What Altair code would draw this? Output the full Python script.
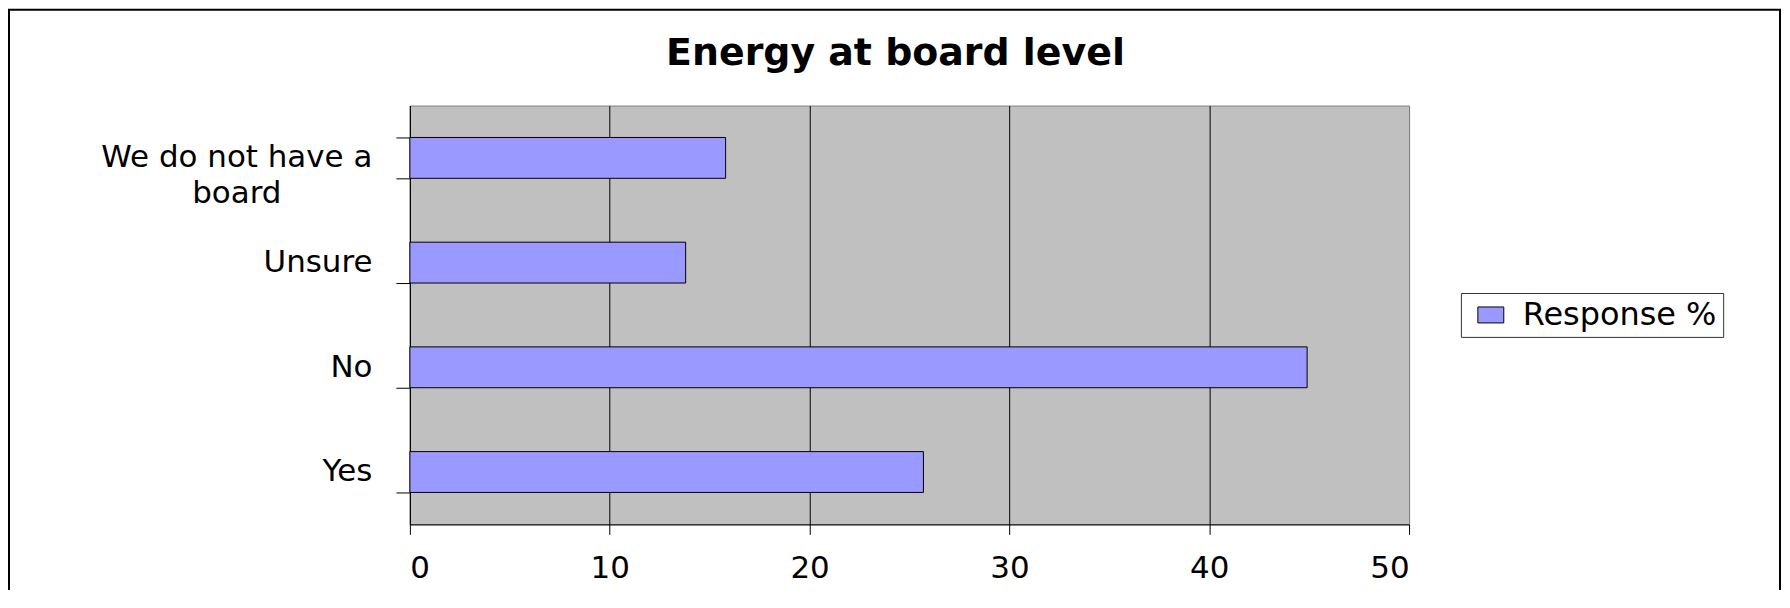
import altair as alt
import pandas as pd

categories = ["We do not have a board", "Unsure", "No", "Yes"]
values = [15.8, 13.8, 44.9, 25.7]
series_name = "Response %"
x_ticks = [0, 10, 20, 30, 40, 50]
title_text = "Energy at board level"

df = pd.DataFrame({"category": categories, "value": values, "series": [series_name] * len(categories)})

FONT = "DejaVu Sans"
LABEL_SIZE = 31
long_label = categories[0]
is_long = f"datum.value == '{long_label}'"
label_expr = f"{is_long} ? ['We do not have a', 'board'] : datum.label"

bars = alt.Chart(df).mark_bar(stroke="black", strokeWidth=1).encode(
    x=alt.X(
        "value:Q",
        scale=alt.Scale(domain=[0, 50], nice=False),
        axis=alt.Axis(
            values=x_ticks,
            title=None,
            grid=True,
            gridColor=alt.condition("datum.value == 50", alt.value("#808080"), alt.value("black")),
            gridOpacity=1,
            gridWidth=1,
            domainColor="black",
            tickColor="black",
            tickSize=10,
            labelFont=FONT,
            labelFontSize=LABEL_SIZE,
            labelColor="black",
            labelPadding=19,
        ),
    ),
    y=alt.Y(
        "category:N",
        sort=categories,
        scale=alt.Scale(paddingInner=0.61, paddingOuter=0.305),
        axis=alt.Axis(
            title=None,
            grid=False,
            tickBand="extent",
            domainColor="black",
            tickColor="black",
            tickSize=14,
            labelFont=FONT,
            labelFontSize=LABEL_SIZE,
            labelColor="black",
            labelAlign=alt.condition(is_long, alt.value("center"), alt.value("right")),
            labelPadding=alt.condition(is_long, alt.value(160), alt.value(24)),
            labelLimit=600,
            labelLineHeight=36,
            labelExpr=label_expr,
        ),
    ),
    color=alt.Color(
        "series:N",
        title=None,
        scale=alt.Scale(range=["#9999FF"]),
        legend=alt.Legend(
            orient="none",
            legendX=1054,
            legendY=188,
            fillColor="white",
            strokeColor="#333333",
            padding=6,
            symbolType="M-1,-0.615L1,-0.615L1,0.615L-1,0.615Z",
            symbolSize=676,
            symbolStrokeColor="black",
            symbolStrokeWidth=1,
            symbolOffset=8,
            labelOffset=16,
            labelFont=FONT,
            labelFontSize=32,
            labelColor="black",
            labelLimit=600,
        ),
    ),
)

frame = alt.Chart(pd.DataFrame({"k": [0]})).mark_rect(
    fillOpacity=0, stroke="black", strokeWidth=2
).encode(
    x=alt.value(-402), x2=alt.value(1374), y=alt.value(-96), y2=alt.value(700)
)

chart = alt.layer(frame, bars).properties(
    width=1002,
    height=420,
    background="white",
    autosize=alt.AutoSizeParams(type="none"),
    padding={"left": 403, "top": 97, "right": 374, "bottom": 65},
    title=alt.TitleParams(
        text=title_text,
        font=FONT,
        fontSize=38,
        fontWeight="bold",
        color="black",
        anchor="middle",
        frame="group",
        dx=-14,
        dy=136,
        offset=42,
        baseline="alphabetic",
    ),
).configure_view(
    fill="#C0C0C0", stroke="#808080", strokeWidth=1
)

chart.save("out.html", embed_options={"renderer": "svg", "actions": False})
